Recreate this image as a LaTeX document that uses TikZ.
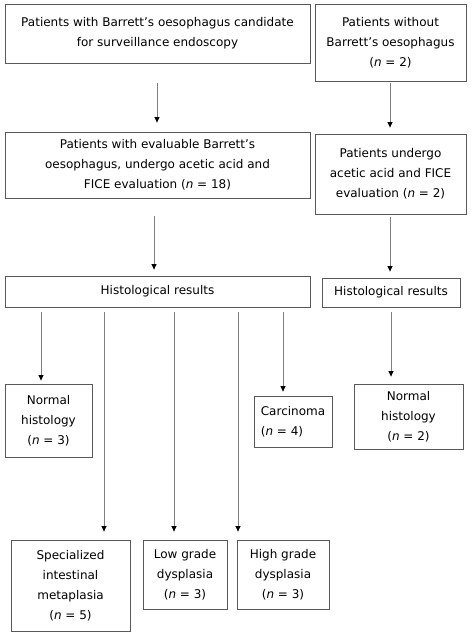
\documentclass[tikz,border=0pt]{standalone}
\usepackage{fontspec}
\setmainfont{DejaVu Sans}
\usetikzlibrary{arrows.meta}
\usepackage{xcolor}

\begin{document}
\begin{tikzpicture}[x=1pt, y=-1pt,
    box/.style={draw=black!65, line width=0.8pt, align=center, inner sep=2pt, font={\fontsize{12}{20}\selectfont}},
    arr/.style={draw=black!50, line width=0.9pt, -{Triangle[length=5.5pt, width=5pt, color=black]}}]
            \useasboundingbox (0,0) rectangle (472,636);
            % Top row
            \node[box, minimum width=305, minimum height=59] (b1) at (157.5,33.5) {Patients with Barrett's oesophagus candidate\\for surveillance endoscopy};
            \node[box, minimum width=151, minimum height=77] (b2) at (390.5,42.5) {Patients without\\Barrett's oesophagus\\(\textit{n} = 2)};

            % Evaluation
            \node[box, minimum width=305, minimum height=66] (b3) at (157.5,165) {Patients with evaluable Barrett's\\oesophagus, undergo acetic acid and\\FICE evaluation (\textit{n} = 18)};
            \node[box, minimum width=151, minimum height=80] (b4) at (390.5,174) {Patients undergo\\acetic acid and FICE\\evaluation (\textit{n} = 2)};

            % Histology
            \node[box, minimum width=305, minimum height=31] (h1) at (157.5,291.5) {Histological results};
            \node[box, minimum width=138, minimum height=29] (h2) at (391,292.5) {Histological results};

            % Results
            \node[box, minimum width=87, minimum height=73] (n1) at (48.5,420.5) {Normal\\histology\\(\textit{n} = 3)};
            \node[box, align=left, minimum width=78, minimum height=51] (car) at (293,421.5) {Carcinoma\\(\textit{n} = 4)};
            \node[box, minimum width=109, minimum height=65] (n2) at (408.5,416.5) {Normal\\histology\\(\textit{n} = 2)};
            \node[box, minimum width=119, minimum height=91] (sim) at (70.5,585.5) {Specialized\\intestinal\\metaplasia\\(\textit{n} = 5)};
            \node[box, minimum width=84, minimum height=69] (lgd) at (185,574.5) {Low grade\\dysplasia\\(\textit{n} = 3)};
            \node[box, minimum width=92, minimum height=69] (hgd) at (283,574.5) {High grade\\dysplasia\\(\textit{n} = 3)};

            % Arrows
            \draw[arr, shorten <=20pt, shorten >=9pt] ([xshift=-0.5pt]b1.south) -- ([xshift=-0.5pt]b3.north);
            \draw[arr, shorten <=2pt, shorten >=6pt] ([xshift=-0.5pt]b2.south) -- ([xshift=-0.5pt]b4.north);
            \draw[arr, shorten <=18pt, shorten >=6pt] ([xshift=-3.5pt]b3.south) -- ([xshift=-3.5pt]h1.north);
            \draw[arr, shorten <=3pt, shorten >=6pt] ([xshift=-0.5pt]b4.south) -- ([xshift=-1pt]h2.north);
            \draw[arr, shorten <=5pt, shorten >=3pt] ([xshift=-7.5pt]n1.north |- h1.south) -- ([xshift=-7.5pt]n1.north);
            \draw[arr, shorten <=5pt, shorten >=8pt] ([xshift=33.5pt]sim.north |- h1.south) -- ([xshift=33.5pt]sim.north);
            \draw[arr, shorten <=5pt, shorten >=8pt] ([xshift=-11pt]lgd.north |- h1.south) -- ([xshift=-11pt]lgd.north);
            \draw[arr, shorten <=5pt, shorten >=8pt] ([xshift=-45pt]hgd.north |- h1.south) -- ([xshift=-45pt]hgd.north);
            \draw[arr, shorten <=5pt, shorten >=4pt] ([xshift=-10pt]car.north |- h1.south) -- ([xshift=-10pt]car.north);
            \draw[arr, shorten <=5pt, shorten >=7pt] ([xshift=-17.5pt]n2.north |- h2.south) -- ([xshift=-17.5pt]n2.north);
        \end{tikzpicture}
\end{document}
